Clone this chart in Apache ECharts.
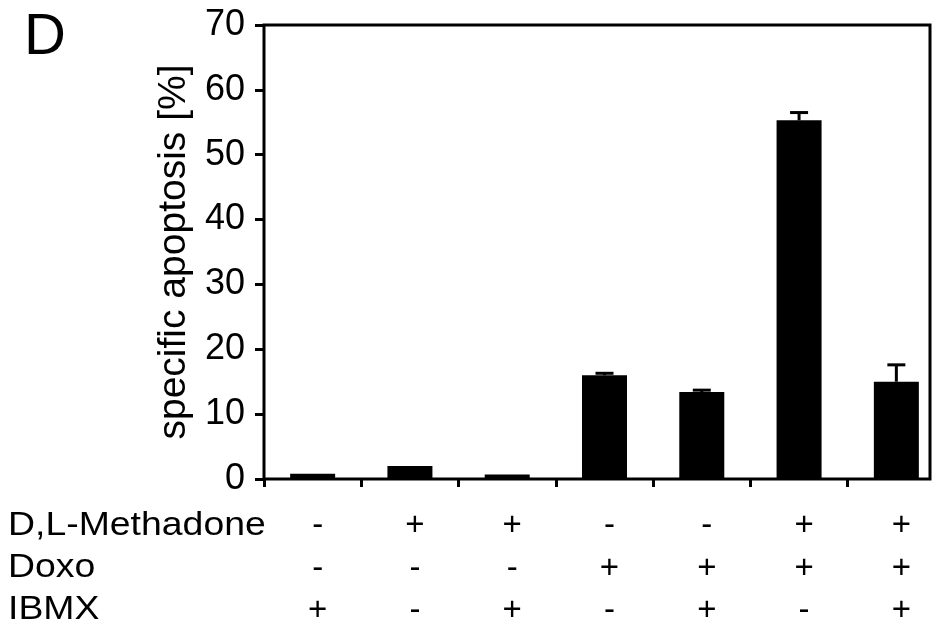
<!DOCTYPE html>
<html>
<head>
<meta charset="utf-8">
<script src="https://cdn.jsdelivr.net/npm/echarts@6/dist/echarts.min.js"></script>
<style>
html,body{margin:0;padding:0;background:#fff;}
#chart{width:943px;height:628px;}
</style>
</head>
<body>
<div id="chart"></div>
<script>
// ---- data ----
var categories = ['c1','c2','c3','c4','c5','c6','c7'];
var methadone = ['-','+','+','-','-','+','+'];
var doxo      = ['-','-','-','+','+','+','+'];
var ibmx      = ['+','-','+','-','+','-','+'];
var apoptosis = [0.8, 2.0, 0.7, 16.0, 13.4, 55.3, 15.0];
var errors    = [0, 0, 0, 0.3, 0.3, 1.2, 2.6];
var yTicks    = [0, 10, 20, 30, 40, 50, 60, 70];
var rowLabels = ['D,L-Methadone', 'Doxo', 'IBMX'];

var FONT = 'Liberation Sans, Arial, sans-serif';
var chart = echarts.init(document.getElementById('chart'), null, {renderer:'canvas'});

var errData = apoptosis.map(function(v,i){ return [i, v, v + errors[i]]; });

var option = {
  animation: false,
  backgroundColor: '#fff',
  grid: [
    {left: 264, top: 25, bottom: 149, width: 681, show: false, outerBoundsMode: 'none', containLabel: false},
    {left: 264, top: 25, bottom: 149, right: 13, show: true, borderColor: '#000', borderWidth: 3, backgroundColor: 'transparent', outerBoundsMode: 'none', containLabel: false}
  ],
  xAxis: [
    {
      type: 'category', gridIndex: 0, data: categories,
      axisLine: {show: false},
      axisTick: {show: true, length: 8, lineStyle: {color: '#000', width: 3}},
      axisLabel: {
        margin: 26, fontSize: 33, fontFamily: FONT, color: '#000', lineHeight: 42.5,
        padding: [0, 0, 0, 10],
        formatter: function(v, i){ return methadone[i] + '\n' + doxo[i] + '\n' + ibmx[i]; }
      }
    },
    {type: 'value', gridIndex: 1, show: false, min: 0, max: 1}
  ],
  yAxis: [
    {
      type: 'value', gridIndex: 0, min: 0, max: 70, interval: 10,
      name: 'specific apoptosis [%]', nameLocation: 'middle', nameRotate: 90, nameGap: 60,
      nameTextStyle: {fontSize: 39, fontFamily: FONT, color: '#000'},
      axisLine: {show: false},
      axisTick: {show: true, length: 9, lineStyle: {color: '#000', width: 3}},
      axisLabel: {margin: 19, fontSize: 36, fontFamily: FONT, color: '#000',
        formatter: function(v){ return yTicks.indexOf(v) >= 0 ? String(v) : ''; }},
      splitLine: {show: false}
    },
    {type: 'value', gridIndex: 1, show: false, min: 0, max: 1}
  ],
  series: [
    {
      type: 'bar', xAxisIndex: 0, yAxisIndex: 0, data: apoptosis,
      barWidth: 45, itemStyle: {color: '#000'}
    },
    {
      type: 'custom', xAxisIndex: 0, yAxisIndex: 0, data: errData, z: 3,
      renderItem: function(params, api){
        if (api.value(2) <= api.value(1)) return null;
        var base = api.coord([api.value(0), api.value(1)]);
        var top = api.coord([api.value(0), api.value(2)]);
        var hw = 9;
        return {
          type: 'group',
          children: [
            {type: 'line', shape: {x1: base[0], y1: base[1], x2: top[0], y2: top[1]}, style: {stroke: '#000', lineWidth: 3}},
            {type: 'line', shape: {x1: top[0]-hw, y1: top[1], x2: top[0]+hw, y2: top[1]}, style: {stroke: '#000', lineWidth: 3}}
          ]
        };
      }
    }
  ],
  graphic: [
    {type: 'text', left: 24, top: 9, style: {text: 'D', font: '58px ' + FONT, fill: '#000'}},
    {type: 'text', x: 8, y: 509, scaleX: 1.1, style: {text: rowLabels[0], font: '34px ' + FONT, fill: '#000'}},
    {type: 'text', x: 8, y: 551, scaleX: 1.1, style: {text: rowLabels[1], font: '34px ' + FONT, fill: '#000'}},
    {type: 'text', x: 8, y: 593, scaleX: 1.1, style: {text: rowLabels[2], font: '34px ' + FONT, fill: '#000'}}
  ]
};
chart.setOption(option);
</script>
</body>
</html>
